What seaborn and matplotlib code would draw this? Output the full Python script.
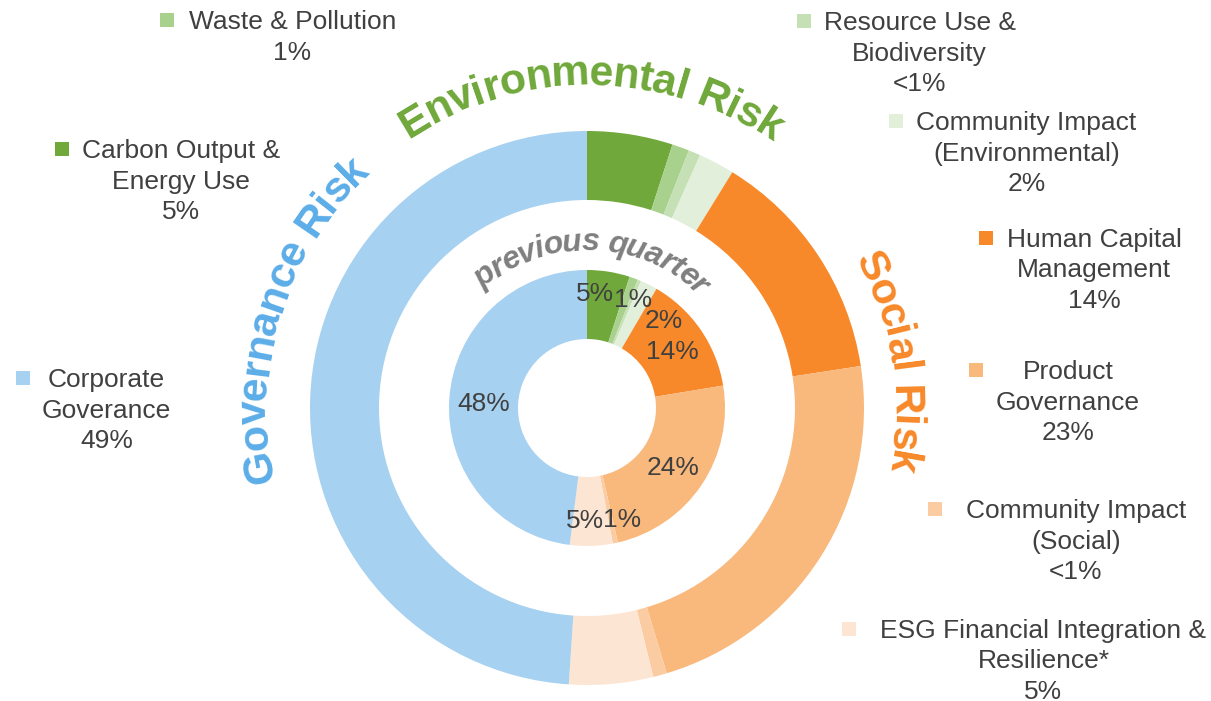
import numpy as np
import matplotlib
matplotlib.use("Agg")
import matplotlib.pyplot as plt
import seaborn as sns
from matplotlib.patches import Rectangle
from matplotlib.font_manager import FontProperties
from matplotlib.textpath import TextToPath

# ---- data ----
categories = ["Carbon Output &\nEnergy Use", "Waste & Pollution",
              "Resource Use &\nBiodiversity", "Community Impact\n(Environmental)",
              "Human Capital\nManagement", "Product\nGovernance",
              "Community Impact\n(Social)", "ESG Financial Integration &\nResilience*",
              "Corporate\nGoverance"]
current_pct = [5, 1, 0.7, 2.1, 13.8, 22.8, 0.8, 4.9, 49]
previous_pct = [5, 1, 0.4, 2, 14, 24, 0.6, 5, 48]
slice_colors = ["#70A83B", "#A9D18E", "#C5E0B4", "#E2EFDA",
                "#F7892A", "#F9B87C", "#FBCBA2", "#FDE5D3", "#A6D1F1"]
group_titles = ["Environmental Risk", "Social Risk", "Governance Risk"]
group_colors = ["#70A83B", "#F7892A", "#5CADE8"]

sns.set_theme(style="white")
plt.rcParams["font.family"] = ["Liberation Sans", "DejaVu Sans"]

TXT = "#404040"
FS = 19
FS_PX = FS * 100 / 72
CAP = 0.358 * FS_PX  # baseline offset to centre capitals

W, H = 1211, 701
fig = plt.figure(figsize=(W / 100, H / 100), dpi=100)
ax = fig.add_axes([0, 0, 1, 1])

cx, cy = 587, H - 408
R_OUT = 277
R_IN = 138
RING = 69

ax.pie(current_pct, radius=R_OUT, center=(cx, cy), startangle=90, counterclock=False,
       colors=slice_colors, wedgeprops=dict(width=RING, linewidth=0))
inner_wedges, _ = ax.pie(previous_pct, radius=R_IN, center=(cx, cy), startangle=90,
                         counterclock=False, colors=slice_colors,
                         wedgeprops=dict(width=RING, linewidth=0))

ax.set_xlim(0, W)
ax.set_ylim(0, H)
ax.set_aspect("equal")
ax.axis("off")

# inner ring value labels, nudged like the original
nudge = {0: (-8, 14), 1: (11, 13), 3: (30, -3), 6: (14, -8), 7: (-5, -7)}
r_lab = R_IN - RING / 2
for i, (w, v) in enumerate(zip(inner_wedges, previous_pct)):
    if round(v) < 1:
        continue
    mid = np.deg2rad((w.theta1 + w.theta2) / 2)
    dx, dy = nudge.get(i, (0, 0))
    x = cx + r_lab * np.cos(mid) + dx
    y = cy + r_lab * np.sin(mid) + dy
    ax.text(x, y - CAP, f"{round(v)}%", ha="center", va="baseline",
            fontsize=FS, color=TXT)

# outer category labels with colour keys
label_xy = [(181, 149), (292.5, 20), (919.5, 21), (1026.5, 121), (1094, 237.5),
            (1068, 370), (1076, 509), (1043.5, 628.5), (106.5, 378)]
key_left = [55, 160, 797, 889, 979, 969, 928, 842, 16]
LINE = 30.5
KEY = 14
for name, v, col, (lx, ly), kx in zip(categories, current_pct, slice_colors,
                                      label_xy, key_left):
    pct = "<1%" if v < 1 else f"{round(v)}%"
    lines = name.split("\n") + [pct]
    for j, line in enumerate(lines):
        yy = H - (ly + j * LINE)
        ax.text(lx, yy - CAP, line, ha="center", va="baseline", fontsize=FS, color=TXT)
    ax.add_patch(Rectangle((kx, H - ly - KEY / 2), KEY, KEY, facecolor=col,
                           edgecolor="none"))


# curved titles
ttp = TextToPath()


def char_width(c, prop):
    w1 = ttp.get_text_width_height_descent("a" + c + "a", prop, ismath=False)[0]
    w0 = ttp.get_text_width_height_descent("aa", prop, ismath=False)[0]
    return w1 - w0


def arc_text(s, phi0, phi1, radius, size, color, style="normal"):
    prop = FontProperties(family="Liberation Sans", weight="bold", style=style, size=size)
    widths = np.array([char_width(c, prop) for c in s])
    total = widths.sum()
    centers = (np.cumsum(widths) - widths / 2) / total
    for c, f in zip(s, centers):
        phi = np.deg2rad(phi0 + f * (phi1 - phi0))
        x = cx + radius * np.sin(phi)
        y = cy + radius * np.cos(phi)
        ax.text(x, y, c, ha="center", va="baseline", rotation=-np.rad2deg(phi),
                rotation_mode="anchor", fontproperties=prop, color=color)


title_arcs = [(-33.5, 35, 323), (61, 102, 306), (-103, -42.5, 321)]
for t, col, (p0, p1, rr) in zip(group_titles, group_colors, title_arcs):
    arc_text(t, p0, p1, rr, 31, col)

arc_text("previous quarter", -41, 44.5, 158, 23, "#7F7F7F", style="italic")

fig.savefig("out.png", dpi=100)
